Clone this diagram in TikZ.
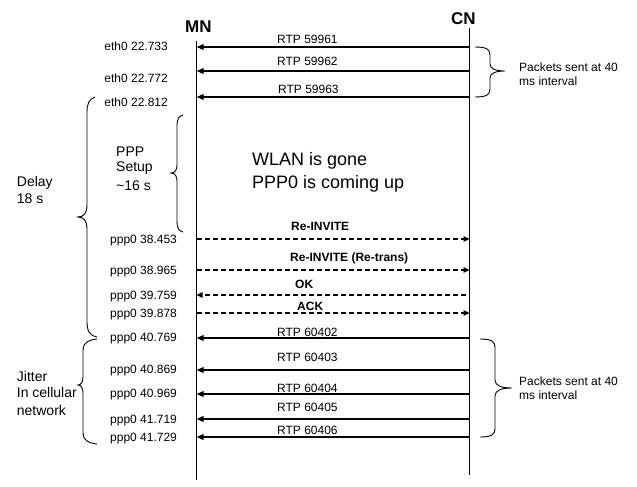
\documentclass[tikz,border=0pt]{standalone}
\usepackage{fontspec}
\setmainfont{Liberation Sans}
\usetikzlibrary{arrows.meta}
\begin{document}
\begin{tikzpicture}[x=1pt,y=-1pt,
  lbl/.style={inner sep=0pt, font=\fontsize{12}{14}\selectfont},
  blbl/.style={inner sep=0pt, font=\fontsize{12}{14}\selectfont\bfseries},
  side/.style={inner sep=0pt, font=\fontsize{14}{16.7}\selectfont},
  wlan/.style={inner sep=0pt, font=\fontsize{18}{22}\selectfont},
  head/.style={inner sep=0pt, font=\fontsize{17}{20}\selectfont\bfseries},
  life/.style={line width=1pt},
  msg/.style={line width=2pt, -{Triangle[length=7pt,width=5.5pt]}},
  sig/.style={line width=1.8pt, dash pattern=on 5pt off 3pt, -{Triangle[length=6pt,width=5.5pt]}},
  brace/.style={line width=0.9pt},
]
\useasboundingbox (0,0) rectangle (637,487);

% heads and lifelines
\node[head, anchor=base west] (MN) at (185,32.3) {MN};
\node[head, anchor=base west] (CN) at (451,25) {CN};
\coordinate (mnTop) at (196.5,41);  \coordinate (mnBot) at (196.5,480);
\coordinate (cnTop) at (469.5,28);  \coordinate (cnBot) at (469.5,475);
\draw[life] (mnTop) -- (mnBot);
\draw[life] (cnTop) -- (cnBot);

% solid RTP messages CN -> MN
\foreach \n/\y in {a/47, b/71, c/97, d/338, e/370, f/394, g/419, h/437}{
  \coordinate (m\n) at (196.5,\y);
  \coordinate (c\n) at (469.5,\y);
  \draw[msg] (c\n) -- (m\n);
}
\node[lbl, anchor=base west] (la) at (277,43.5) {RTP 59961};
\node[lbl, anchor=base west] (lb) at (277,65.5) {RTP 59962};
\node[lbl, anchor=base west] (lc) at (278,93.5) {RTP 59963};
\node[lbl, anchor=base west] (ld) at (277,336.5) {RTP 60402};
\node[lbl, anchor=base west] (le) at (277,361) {RTP 60403};
\node[lbl, anchor=base west] (lf) at (277,392.5) {RTP 60404};
\node[lbl, anchor=base west] (lg) at (277,411) {RTP 60405};
\node[lbl, anchor=base west] (lh) at (277,434.5) {RTP 60406};

% dashed SIP messages
\coordinate (ms1) at (196.5,239); \coordinate (cs1) at (469.5,239);
\coordinate (ms2) at (196.5,270); \coordinate (cs2) at (469.5,270);
\coordinate (ms3) at (196.5,295); \coordinate (cs3) at (466,295);
\coordinate (ms4) at (196.5,313); \coordinate (cs4) at (469.5,313);
\draw[sig] (ms1) -- (cs1);
\draw[sig] (ms2) -- (cs2);
\draw[sig] (cs3) -- (ms3);
\draw[sig] (ms4) -- (cs4);
\node[blbl, anchor=base west] (s1) at (291,230) {Re-INVITE};
\node[blbl, anchor=base west] (s2) at (290,261.5) {Re-INVITE (Re-trans)};
\node[blbl, anchor=base west] (s3) at (295,288.5) {OK};
\node[blbl, anchor=base west] (s4) at (297,310.5) {ACK};

% time stamps
\node[lbl, anchor=base east] (t1) at (168,51) {eth0 22.733};
\node[lbl, anchor=base east] (t2) at (168,82.5) {eth0 22.772};
\node[lbl, anchor=base east] (t3) at (168,106) {eth0 22.812};
\node[lbl, anchor=base west] (t4) at (110,243.5) {ppp0 38.453};
\node[lbl, anchor=base west] (t5) at (110,274) {ppp0 38.965};
\node[lbl, anchor=base west] (t6) at (110,299) {ppp0 39.759};
\node[lbl, anchor=base west] (t7) at (110,317) {ppp0 39.878};
\node[lbl, anchor=base west] (t8) at (110,341.7) {ppp0 40.769};
\node[lbl, anchor=base west] (t9) at (110,373.3) {ppp0 40.869};
\node[lbl, anchor=base west] (t10) at (110,397) {ppp0 40.969};
\node[lbl, anchor=base west] (t11) at (110,423) {ppp0 41.719};
\node[lbl, anchor=base west] (t12) at (110,441.7) {ppp0 41.729};

% braces
\draw[brace] (475,47) .. controls (486,47) and (490,49) .. (490,55) -- (490,64)
  .. controls (490,69) and (496,71) .. (505,71) .. controls (496,71) and (490,73) .. (490,78)
  -- (490,89) .. controls (490,95) and (486,97) .. (475,97);
\draw[brace] (480,339) .. controls (491,339) and (495,341) .. (495,348) -- (495,380)
  .. controls (495,386) and (502,388) .. (512,388) .. controls (502,388) and (495,390) .. (495,396)
  -- (495,428) .. controls (495,435) and (491,437) .. (480,437);
\draw[brace] (95,97) .. controls (89,99) and (87,104) .. (87,112) -- (87,205)
  .. controls (87,213) and (84,217) .. (78,217) .. controls (84,217) and (87,221) .. (87,229)
  -- (87,322) .. controls (87,331) and (90,336) .. (97,337);
\draw[brace] (97,339) .. controls (88,340) and (83,343) .. (83,350) -- (83,377)
  .. controls (83,382) and (81,385) .. (78,385) .. controls (81,385) and (83,388) .. (83,393)
  -- (83,433) .. controls (83,440) and (88,443) .. (97,444);
\draw[brace] (183,115) .. controls (179,116) and (177,119) .. (177,125) -- (177,165)
  .. controls (177,170) and (175,173) .. (171,173) .. controls (175,173) and (177,176) .. (177,181)
  -- (177,222) .. controls (177,228) and (179,231) .. (183,232);

% brace texts
\node[lbl, anchor=base west] (p1) at (519,71.7) {Packets sent at 40};
\node[lbl, anchor=base west] (p2) at (519,85) {ms interval};
\node[lbl, anchor=base west] (p3) at (519,385) {Packets sent at 40};
\node[lbl, anchor=base west] (p4) at (519,399) {ms interval};
\node[side, anchor=base west] (d1) at (16.7,186.7) {Delay};
\node[side, anchor=base west] (d2) at (16.7,203.3) {18 s};
\node[side, anchor=base west] (j1) at (16.7,381.5) {Jitter};
\node[side, anchor=base west] (j2) at (16.7,397.5) {In cellular};
\node[side, anchor=base west] (j3) at (16.7,415) {network};
\node[side, anchor=base west] (q1) at (116,156.7) {PPP};
\node[side, anchor=base west] (q2) at (116,171.7) {Setup};
\node[side, anchor=base west] (q3) at (116,190) {\textasciitilde16 s};
\node[wlan, anchor=base west] (w1) at (252,165) {WLAN is gone};
\node[wlan, anchor=base west] (w2) at (252,188.3) {PPP0 is coming up};
\end{tikzpicture}
\end{document}
